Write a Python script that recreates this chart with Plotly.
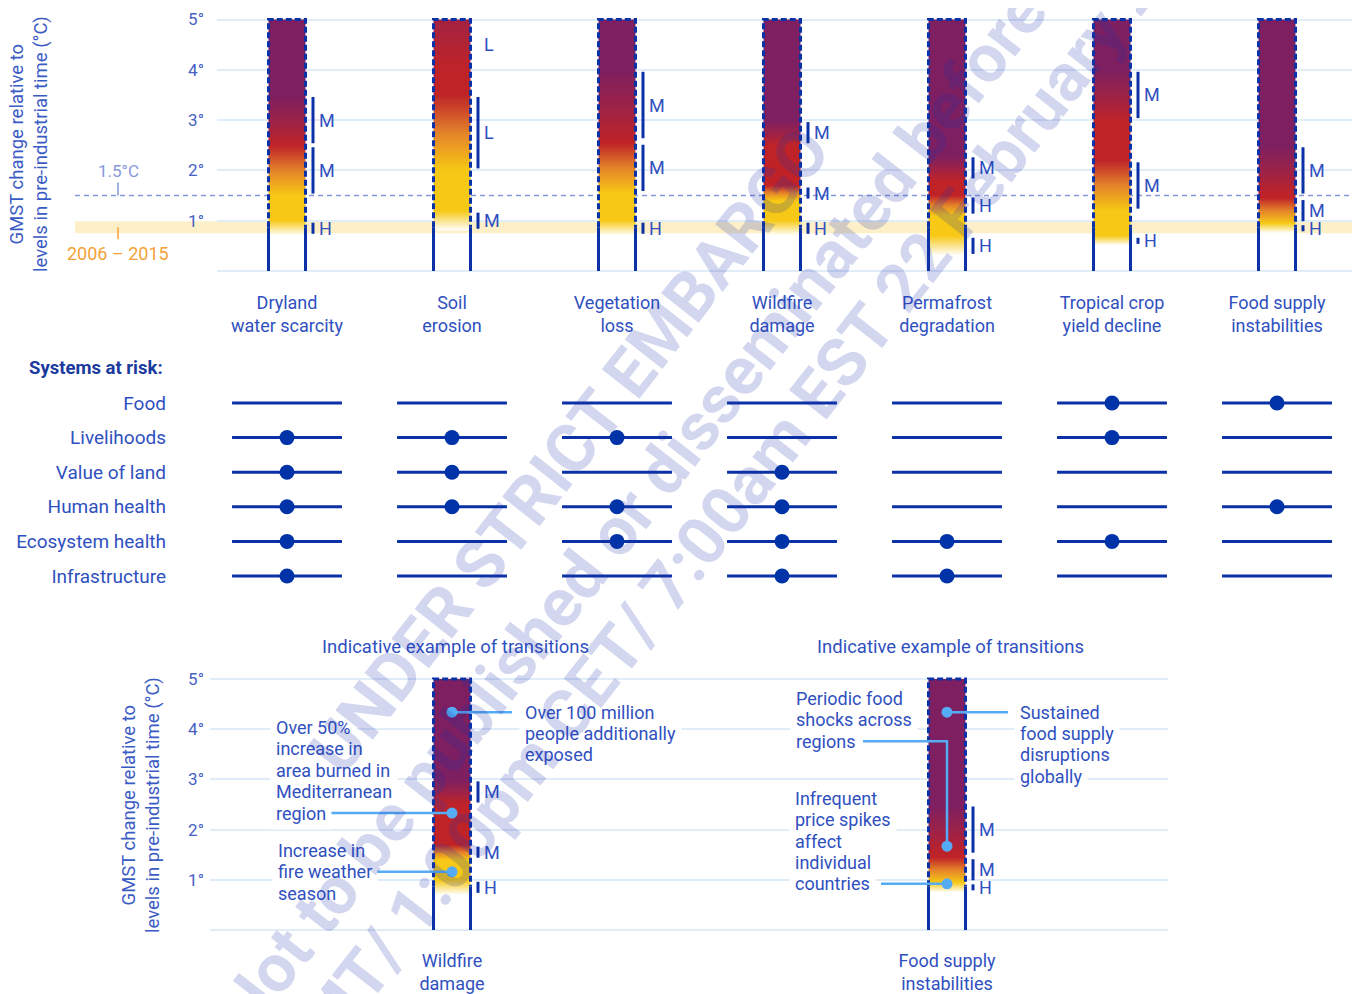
import numpy as np
import plotly.graph_objects as go

# ---------------- data ----------------
RISKS = ["Dryland<br>water scarcity", "Soil<br>erosion", "Vegetation<br>loss",
         "Wildfire<br>damage", "Permafrost<br>degradation",
         "Tropical crop<br>yield decline", "Food supply<br>instabilities"]

# risk transitions (start °C, end °C, confidence):
# undetectable->moderate, moderate->high, high->very high
TRANS_DRYLAND = [(0.7, 1.0, "H"), (1.5, 2.5, "M"), (2.5, 3.5, "M")]
TRANS_SOIL = [(0.8, 1.2, "M"), (2.0, 3.5, "L"), (4.0, 6.5, "L")]
TRANS_VEGETATION = [(0.7, 1.0, "H"), (1.55, 2.55, "M"), (2.6, 4.0, "M")]
TRANS_WILDFIRE = [(0.7, 1.0, "H"), (1.4, 1.7, "M"), (2.5, 3.0, "M")]
TRANS_PERMAFROST = [(0.3, 0.7, "H"), (1.1, 1.5, "H"), (1.8, 2.3, "M")]
TRANS_CROP = [(0.5, 0.7, "H"), (1.2, 2.2, "M"), (3.0, 4.0, "M")]
TRANS_FOOD = [(0.75, 0.95, "H"), (0.95, 1.45, "M"), (1.5, 2.5, "M")]
TRANSITIONS = [TRANS_DRYLAND, TRANS_SOIL, TRANS_VEGETATION, TRANS_WILDFIRE,
               TRANS_PERMAFROST, TRANS_CROP, TRANS_FOOD]

SYSTEMS = ["Food", "Livelihoods", "Value of land", "Human health",
           "Ecosystem health", "Infrastructure"]
AT_RISK_FOOD = [0, 0, 0, 0, 0, 1, 1]
AT_RISK_LIVELIHOODS = [1, 1, 1, 0, 0, 1, 0]
AT_RISK_LAND_VALUE = [1, 1, 0, 1, 0, 0, 0]
AT_RISK_HUMAN_HEALTH = [1, 1, 1, 1, 0, 0, 1]
AT_RISK_ECOSYSTEM = [1, 0, 1, 1, 1, 1, 0]
AT_RISK_INFRASTRUCTURE = [1, 0, 0, 1, 1, 0, 0]
AT_RISK_ROWS = [AT_RISK_FOOD, AT_RISK_LIVELIHOODS, AT_RISK_LAND_VALUE,
                AT_RISK_HUMAN_HEALTH, AT_RISK_ECOSYSTEM, AT_RISK_INFRASTRUCTURE]

GMST_TICKS = [1, 2, 3, 4, 5]
GMST_TICK_LABELS = ["1°", "2°", "3°", "4°", "5°"]
T_MAX = 5.0
PARIS_LEVEL = 1.5
OBS_MEAN = 0.87
OBS_LOW, OBS_HIGH = 0.75, 0.99

EXAMPLE_RISK_INDEX = [3, 6]
EXAMPLE_LABELS = ["Wildfire<br>damage", "Food supply<br>instabilities"]
WILDFIRE_NOTE_TEMPS = [4.34, 2.33, 1.16]
WILDFIRE_NOTE_TEXTS = ["Over 100 million<br>people additionally<br>exposed",
                       "Over 50%<br>increase in<br>area burned in<br>Mediterranean<br>region",
                       "Increase in<br>fire weather<br>season"]
FOOD_NOTE_TEMPS = [4.34, 1.67, 0.92]
FOOD_NOTE_TEXTS = ["Sustained<br>food supply<br>disruptions<br>globally",
                   "Periodic food<br>shocks across<br>regions",
                   "Infrequent<br>price spikes<br>affect<br>individual<br>countries"]

WATERMARK_LINES = ["UNDER STRICT EMBARGO",
                   "Not to be published or disseminated before",
                   "12:00 GMT/ 1:00pm CET/ 7:00am EST 22 February 2022"]

# ---------------- layout / style ----------------
OFF = 8                      # page body margin
FW, FH = 1352, 986
COL0_PX, COL_STEP_PX = 287, 165
TOP_ZERO_PX, TOP_DEG_PX = 271, 50.3
BOT_ZERO_PX, BOT_DEG_PX = 930, 50.2
BAR_HALF = 18.5 / COL_STEP_PX
CONF_DX = 26 / COL_STEP_PX
EXAMPLE_SLOTS = [1, 4]

FONT = "Roboto"
TEXT = "#2f50bf"
TICK_TEXT = "#4661c3"
TITLE_TEXT = "#3b5bc4"
OUTLINE = "#0a31a6"
GRID = "#e1ecf9"
LINE15 = "#8797da"
BAND = "#fdf0c8"
ORANGE = "#f4a236"
CONNECT = "#55acf4"
DOT = "#0033a8"
COLORSCALE = [[0.0, "#ffffff"], [1 / 3, "#f7c815"], [0.5, "#e4832a"],
              [2 / 3, "#bf2328"], [0.83, "#9c2248"], [1.0, "#7d1f61"]]


def xu(px):
    return (px - COL0_PX) / COL_STEP_PX


def pyp(p):
    return 1 - (p - OFF) / FH


def pxp(p):
    return (p - OFF) / FW


fig = go.Figure()
bg_annotations = []
annotations = []


def bars_heatmap(positions, trans_list, xa, ya):
    edges = []
    for p in positions:
        edges += [p - BAR_HALF, p + BAR_HALF]
    yedges = np.linspace(0, T_MAX, 251)
    yc = (yedges[:-1] + yedges[1:]) / 2
    z = np.full((len(yc), 2 * len(positions) - 1), np.nan)
    for k, tr in enumerate(trans_list):
        lv = np.zeros_like(yc)
        for lo, hi, _ in tr:
            lv += np.clip((yc - lo) / (hi - lo), 0, 1)
        lv[yc < tr[0][0]] = np.nan
        z[:, 2 * k] = lv
    return go.Heatmap(x=edges, y=yedges, z=z, zmin=0, zmax=3, colorscale=COLORSCALE,
                      showscale=False, hoverinfo="skip", xaxis=xa, yaxis=ya)


def bar_outlines(positions, xa, ya):
    dx, dy, sx, sy = [], [], [], []
    for p in positions:
        l, r = p - BAR_HALF, p + BAR_HALF
        dx += [l, l, r, r, None]
        dy += [OBS_MEAN, T_MAX, T_MAX, OBS_MEAN, None]
        sx += [l, l, None, r, r, None]
        sy += [0, OBS_MEAN, None, 0, OBS_MEAN, None]
    return [
        go.Scatter(x=sx, y=sy, mode="lines", line=dict(color=OUTLINE, width=3),
                   hoverinfo="skip", xaxis=xa, yaxis=ya),
        go.Scatter(x=dx, y=dy, mode="lines",
                   line=dict(color=OUTLINE, width=3, dash="6px,3px"),
                   hoverinfo="skip", xaxis=xa, yaxis=ya),
    ]


def confidence(positions, trans_list, xa, ya, deg_px):
    lx, ly = [], []
    inset = 2 / deg_px
    for p, tr in zip(positions, trans_list):
        for lo, hi, c in tr:
            if hi <= T_MAX:
                lx += [p + CONF_DX, p + CONF_DX, None]
                ly += [lo + inset, hi - inset, None]
                mid = (lo + hi) / 2
            else:
                mid = (lo + T_MAX) / 2
            annotations.append(dict(x=p + CONF_DX, y=mid, xref=xa, yref=ya, text=c,
                                    showarrow=False, xanchor="left", yanchor="middle",
                                    xshift=4, font=dict(family=FONT, size=18, color=TEXT)))
    return go.Scatter(x=lx, y=ly, mode="lines", line=dict(color=OUTLINE, width=3),
                      hoverinfo="skip", xaxis=xa, yaxis=ya)


# ---------- top panel ----------
cols = list(range(len(RISKS)))
fig.add_trace(bars_heatmap(cols, TRANSITIONS, "x", "y"))
fig.add_traces(bar_outlines(cols, "x", "y"))
fig.add_trace(confidence(cols, TRANSITIONS, "x", "y", TOP_DEG_PX))

# reference markers (1.5°C and 2006-2015)
ref_x = xu(118)
fig.add_trace(go.Scatter(x=[ref_x], y=[PARIS_LEVEL], mode="markers", cliponaxis=False,
                         marker=dict(color=LINE15, size=6), hoverinfo="skip",
                         xaxis="x", yaxis="y"))
fig.add_trace(go.Scatter(x=[ref_x], y=[OBS_MEAN], mode="markers", cliponaxis=False,
                         marker=dict(color=ORANGE, size=6), hoverinfo="skip",
                         xaxis="x", yaxis="y"))

shapes = [
    dict(type="rect", xref="paper", yref="y", x0=pxp(75), x1=pxp(1352),
         y0=OBS_LOW, y1=OBS_HIGH, fillcolor=BAND, line=dict(width=0), layer="below"),
    dict(type="line", xref="paper", yref="y", x0=pxp(75), x1=pxp(1352),
         y0=PARIS_LEVEL, y1=PARIS_LEVEL, line=dict(color=LINE15, width=1.5, dash="5px,4px"),
         layer="below"),
    dict(type="line", xref="paper", yref="y", x0=pxp(118), x1=pxp(118),
         y0=PARIS_LEVEL, y1=PARIS_LEVEL + 13 / TOP_DEG_PX, line=dict(color=LINE15, width=1.5)),
    dict(type="line", xref="paper", yref="y", x0=pxp(118), x1=pxp(118),
         y0=OBS_MEAN, y1=OBS_MEAN - 12 / TOP_DEG_PX, line=dict(color=ORANGE, width=1.5)),
]

annotations += [
    dict(x=pxp(118), y=pyp(171), xref="paper", yref="paper", text="1.5°C", showarrow=False,
         xanchor="center", yanchor="middle",
         font=dict(family=FONT, size=17, color=LINE15)),
    dict(x=pxp(118), y=pyp(253), xref="paper", yref="paper", text="2006 – 2015",
         xanchor="center", yanchor="middle",
         showarrow=False, font=dict(family=FONT, size=18, color=ORANGE)),
    dict(x=pxp(29), y=pyp(144), xref="paper", yref="paper", textangle=-90,
         xanchor="center", yanchor="middle",
         text="GMST change relative to<br>levels in pre-industrial time (°C)",
         showarrow=False, font=dict(family=FONT, size=18.5, color=TITLE_TEXT)),
]

# ---------- systems at risk ----------
for name, flags in zip(SYSTEMS, AT_RISK_ROWS):
    lx, ly = [], []
    for c in cols:
        lx += [c - 0.333, c + 0.333, None]
        ly += [name, name, None]
    fig.add_trace(go.Scatter(x=lx, y=ly, mode="lines", line=dict(color=OUTLINE, width=3),
                             hoverinfo="skip", xaxis="x2", yaxis="y2"))
    dxs = [c for c, f in zip(cols, flags) if f]
    fig.add_trace(go.Scatter(x=dxs, y=[name] * len(dxs), mode="markers",
                             marker=dict(color=DOT, size=15), hoverinfo="skip",
                             xaxis="x2", yaxis="y2"))

annotations.append(dict(x=pxp(165), y=pyp(368), xref="paper", yref="paper",
                        text="<b>Systems at risk:</b>", showarrow=False, xanchor="right",
                        yanchor="middle",
                        font=dict(family=FONT, size=18.5, color="#1a3a9e")))

# ---------- bottom panel ----------
ex_trans = [TRANSITIONS[i] for i in EXAMPLE_RISK_INDEX]
fig.add_trace(bars_heatmap(EXAMPLE_SLOTS, ex_trans, "x3", "y3"))
fig.add_traces(bar_outlines(EXAMPLE_SLOTS, "x3", "y3"))
fig.add_trace(confidence(EXAMPLE_SLOTS, ex_trans, "x3", "y3", BOT_DEG_PX))

for slot in EXAMPLE_SLOTS:
    annotations.append(dict(x=slot, y=pyp(647), xref="x3", yref="paper", xshift=3,
                            text="Indicative example of transitions", showarrow=False,
                            xanchor="center", yanchor="middle",
                            font=dict(family=FONT, size=18.5, color=TEXT)))

annotations.append(dict(x=pxp(141), y=pyp(805), xref="paper", yref="paper", textangle=-90,
                        xanchor="center", yanchor="middle",
                        text="GMST change relative to<br>levels in pre-industrial time (°C)",
                        showarrow=False, font=dict(family=FONT, size=18.5, color=TITLE_TEXT)))

PAD = 5
NOTE_FONT = 18
NOTE_LINE_H = 21.4
WILDFIRE_TEXT_DX = [72, -177, -175]
WILDFIRE_LINE_DX = [60, -135, -94]
WILDFIRE_ELBOW_DY = [0, 0, 0]
WILDFIRE_ANCHOR_LINE = [0, 4, 1]
FOOD_TEXT_DX = [72, -152, -153]
FOOD_LINE_DX = [61, -84, -66]
FOOD_ELBOW_DY = [0, 105, 0]
FOOD_ANCHOR_LINE = [0, 2, 4]


def add_notes(slot, temps, texts, tdxs, ldxs, edys, alines):
    for T, txt, tdx, ldx, edy, al in zip(temps, texts, tdxs, ldxs, edys, alines):
        t_line = T + edy / BOT_DEG_PX
        xs = [slot, slot, slot + ldx / COL_STEP_PX]
        ys = [T, t_line, t_line]
        fig.add_trace(go.Scatter(x=xs, y=ys, mode="lines", line=dict(color=CONNECT, width=2.5),
                                 hoverinfo="skip", xaxis="x3", yaxis="y3"))
        fig.add_trace(go.Scatter(x=[slot], y=[T], mode="markers",
                                 marker=dict(color=CONNECT, size=11), hoverinfo="skip",
                                 xaxis="x3", yaxis="y3"))
        for j, line_txt in enumerate(txt.split("<br>")):
            common = dict(x=slot, y=t_line, xref="x3", yref="y3", text=line_txt,
                          showarrow=False, xanchor="left", yanchor="middle",
                          align="left", xshift=tdx - PAD,
                          yshift=(al - j) * NOTE_LINE_H, borderpad=PAD)
            # white knock-out box (hides grid lines), drawn beneath all note texts
            bg_annotations.append(dict(common, bgcolor="white",
                                       font=dict(family=FONT, size=NOTE_FONT,
                                                 color="rgba(0,0,0,0)")))
            annotations.append(dict(common,
                                    font=dict(family=FONT, size=NOTE_FONT, color=TEXT)))


add_notes(EXAMPLE_SLOTS[0], WILDFIRE_NOTE_TEMPS, WILDFIRE_NOTE_TEXTS,
          WILDFIRE_TEXT_DX, WILDFIRE_LINE_DX, WILDFIRE_ELBOW_DY, WILDFIRE_ANCHOR_LINE)
add_notes(EXAMPLE_SLOTS[1], FOOD_NOTE_TEMPS, FOOD_NOTE_TEXTS,
          FOOD_TEXT_DX, FOOD_LINE_DX, FOOD_ELBOW_DY, FOOD_ANCHOR_LINE)

# ---------- watermark ----------
WM_CENTERS = [(570, 450), (632, 510), (693, 553)]
for txt, (cx, cy) in zip(WATERMARK_LINES, WM_CENTERS):
    annotations.append(dict(x=pxp(cx), y=pyp(cy), xref="paper", yref="paper", text=txt,
                            showarrow=False, textangle=-52, xanchor="center", yanchor="middle",
                            font=dict(family=FONT, size=67, color="rgba(30,50,170,0.2)",
                                      weight=700)))

ytick_font = dict(family=FONT, size=17, color=TICK_TEXT)
fig.update_layout(
    width=FW, height=FH, margin=dict(l=0, r=0, t=0, b=0),
    paper_bgcolor="white", plot_bgcolor="rgba(0,0,0,0)", showlegend=False,
    xaxis=dict(domain=[pxp(217), pxp(1352)], range=[xu(217), xu(1352)], anchor="y",
               tickvals=cols, ticktext=RISKS, showgrid=False, zeroline=False, showline=False,
               ticks="", ticklabelstandoff=10,
               tickfont=dict(family=FONT, size=18, color=TEXT)),
    yaxis=dict(domain=[pyp(280), pyp(10)], anchor="x",
               range=[(TOP_ZERO_PX - 280) / TOP_DEG_PX, (TOP_ZERO_PX - 10) / TOP_DEG_PX],
               tickvals=GMST_TICKS, ticktext=GMST_TICK_LABELS, showgrid=True, gridcolor=GRID,
               gridwidth=2, zeroline=True, zerolinecolor=GRID, zerolinewidth=2,
               showline=False, ticks="", ticklabelstandoff=12, tickfont=ytick_font),
    xaxis2=dict(domain=[pxp(175), pxp(1352)], range=[xu(175), xu(1352)], anchor="y2",
                visible=False),
    yaxis2=dict(domain=[pyp(593.3), pyp(385.7)], anchor="x2", type="category",
                categoryorder="array", categoryarray=SYSTEMS, range=[5.5, -0.5],
                showgrid=False, zeroline=False, showline=False, ticks="",
                ticklabelstandoff=8, tickfont=dict(family=FONT, size=19, color=TEXT)),
    xaxis3=dict(domain=[pxp(210), pxp(1168)], range=[xu(210), xu(1168)], anchor="y3",
                tickvals=EXAMPLE_SLOTS, ticktext=EXAMPLE_LABELS, showgrid=False,
                zeroline=False, showline=False, ticks="", ticklabelstandoff=8,
                tickfont=dict(family=FONT, size=18, color=TEXT)),
    yaxis3=dict(domain=[pyp(940), pyp(670)], anchor="x3",
                range=[(BOT_ZERO_PX - 940) / BOT_DEG_PX, (BOT_ZERO_PX - 670) / BOT_DEG_PX],
                tickvals=GMST_TICKS, ticktext=GMST_TICK_LABELS, showgrid=True, gridcolor=GRID,
                gridwidth=2, zeroline=True, zerolinecolor=GRID, zerolinewidth=2,
                showline=False, ticks="", ticklabelstandoff=5, tickfont=ytick_font),
    shapes=shapes,
    annotations=bg_annotations + annotations,
)

fig.write_html("out.html")
